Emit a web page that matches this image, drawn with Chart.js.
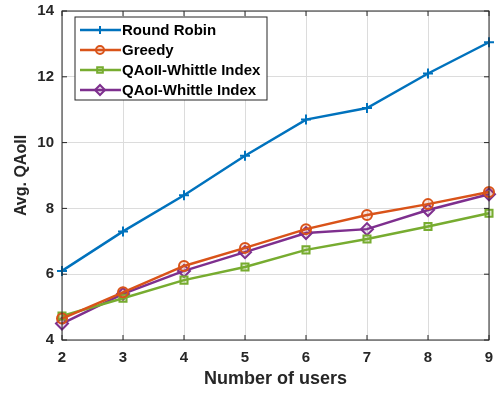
<!DOCTYPE html>
<html>
<head>
<meta charset="utf-8">
<script src="https://cdn.jsdelivr.net/npm/chart.js@4.4.0/dist/chart.umd.min.js"></script>
<style>
  html, body { margin: 0; padding: 0; background: #fff; }
  #wrap { width: 497px; height: 394px; }
</style>
</head>
<body>
<div id="wrap"><canvas id="qaoiiChart"></canvas></div>
<script>
// data
const users = [2, 3, 4, 5, 6, 7, 8, 9];
const roundRobin = [6.1, 7.3, 8.4, 9.6, 10.7, 11.05, 12.1, 13.05];
const greedy = [4.65, 5.45, 6.25, 6.8, 7.37, 7.8, 8.13, 8.5];
const qaoiiWhittle = [4.73, 5.27, 5.82, 6.22, 6.74, 7.07, 7.45, 7.85];
const qaoiWhittle = [4.5, 5.4, 6.1, 6.67, 7.25, 7.37, 7.95, 8.43];
const yTicks = [4, 6, 8, 10, 12, 14];

const fontName = "'Liberation Sans', Arial, sans-serif";
const axisColor = "#262626";

function toPoints(values) {
  return users.map((u, i) => ({ x: u, y: values[i] }));
}

// box around the axes plus small inward ticks, like matlab
const axesBox = {
  id: "axesBox",
  afterDraw(chart) {
    const { ctx, chartArea: a, scales } = chart;
    ctx.save();
    ctx.strokeStyle = axisColor;
    ctx.lineWidth = 1;
    ctx.strokeRect(a.left, a.top, a.right - a.left, a.bottom - a.top);
    ctx.beginPath();
    users.forEach((u) => {
      const px = scales.x.getPixelForValue(u);
      ctx.moveTo(px, a.bottom);
      ctx.lineTo(px, a.bottom - 5);
      ctx.moveTo(px, a.top);
      ctx.lineTo(px, a.top + 5);
    });
    yTicks.forEach((v) => {
      const py = scales.y.getPixelForValue(v);
      ctx.moveTo(a.left, py);
      ctx.lineTo(a.left + 5, py);
      ctx.moveTo(a.right, py);
      ctx.lineTo(a.right - 5, py);
    });
    ctx.stroke();
    ctx.restore();
  },
};

// legend drawn inside the plot with a frame
const boxedLegend = {
  id: "boxedLegend",
  afterDraw(chart) {
    const { ctx } = chart;
    const x0 = 75, y0 = 17, w = 192, h = 83;
    ctx.save();
    ctx.fillStyle = "#fff";
    ctx.fillRect(x0, y0, w, h);
    ctx.strokeStyle = axisColor;
    ctx.lineWidth = 1;
    ctx.strokeRect(x0, y0, w, h);
    ctx.textBaseline = "middle";
    chart.data.datasets.forEach((ds, i) => {
      const cy = y0 + 13 + i * 20;
      ctx.strokeStyle = ds.borderColor;
      ctx.lineWidth = 2.5;
      ctx.beginPath();
      ctx.moveTo(x0 + 5, cy);
      ctx.lineTo(x0 + 46, cy);
      ctx.stroke();
      ctx.fillStyle = ds.pointBackgroundColor;
      ctx.lineWidth = 2;
      Chart.helpers.drawPoint(ctx, {
        pointStyle: ds.pointStyle,
        radius: ds.pointRadius - 1,
        rotation: 0,
        borderWidth: 2,
      }, x0 + 25, cy);
      ctx.fillStyle = "#000";
      ctx.font = "bold 15px " + fontName;
      ctx.fillText(ds.label, x0 + 47, cy + 1);
    });
    ctx.restore();
  },
};

document.addEventListener("DOMContentLoaded", function () {
  const ctx = document.getElementById("qaoiiChart").getContext("2d");

  function series(label, values, color, style, radius, fill) {
    return {
      label: label,
      data: toPoints(values),
      borderColor: color,
      backgroundColor: fill,
      borderWidth: 2.5,
      pointStyle: style,
      pointRadius: radius,
      pointBorderWidth: 2,
      pointBorderColor: color,
      pointBackgroundColor: fill,
      tension: 0,
    };
  }

  new Chart(ctx, {
    type: "line",
    data: {
      datasets: [
        series("Round Robin", roundRobin, "#0072BD", "cross", 5, "#0072BD"),
        series("Greedy", greedy, "#D95319", "circle", 5, "rgba(217,83,25,0.15)"),
        series("QAoII-Whittle Index", qaoiiWhittle, "#77AC30", "rect", 5, "rgba(119,172,48,0.25)"),
        series("QAoI-Whittle Index", qaoiWhittle, "#7E2F8E", "rectRot", 6, "rgba(126,47,142,0.15)"),
      ],
    },
    options: {
      responsive: true,
      maintainAspectRatio: false,
      animation: false,
      clip: false,
      layout: { padding: { top: 11, right: 6, left: 0, bottom: 0 } },
      plugins: {
        legend: { display: false },
        tooltip: { enabled: false },
      },
      scales: {
        x: {
          type: "linear",
          min: 2,
          max: 9,
          afterFit: (scale) => {
            scale.height = 54;
            scale.paddingLeft = 0;
            scale.paddingRight = 0;
          },
          afterBuildTicks: (scale) => {
            scale.ticks = users.map((u) => ({ value: u }));
          },
          grid: { color: "#dcdcdc", drawTicks: false },
          border: { display: false },
          ticks: {
            color: axisColor,
            padding: 9,
            maxRotation: 0,
            font: { family: fontName, size: 15, weight: "bold" },
          },
          title: {
            display: true,
            text: "Number of users",
            color: axisColor,
            padding: { top: 3 },
            font: { family: fontName, size: 18, weight: "bold" },
          },
        },
        y: {
          min: 4,
          max: 14,
          afterFit: (scale) => {
            scale.width = 62;
            scale.paddingTop = 0;
            scale.paddingBottom = 0;
          },
          afterBuildTicks: (scale) => {
            scale.ticks = yTicks.map((v) => ({ value: v }));
          },
          grid: { color: "#dcdcdc", drawTicks: false },
          border: { display: false },
          ticks: {
            color: axisColor,
            padding: 8,
            font: { family: fontName, size: 15, weight: "bold" },
          },
          title: {
            display: true,
            text: "Avg. QAoII",
            color: axisColor,
            padding: { top: 12, bottom: 0 },
            font: { family: fontName, size: 16, weight: "bold" },
          },
        },
      },
    },
    plugins: [axesBox, boxedLegend],
  });
});
</script>
</body>
</html>
